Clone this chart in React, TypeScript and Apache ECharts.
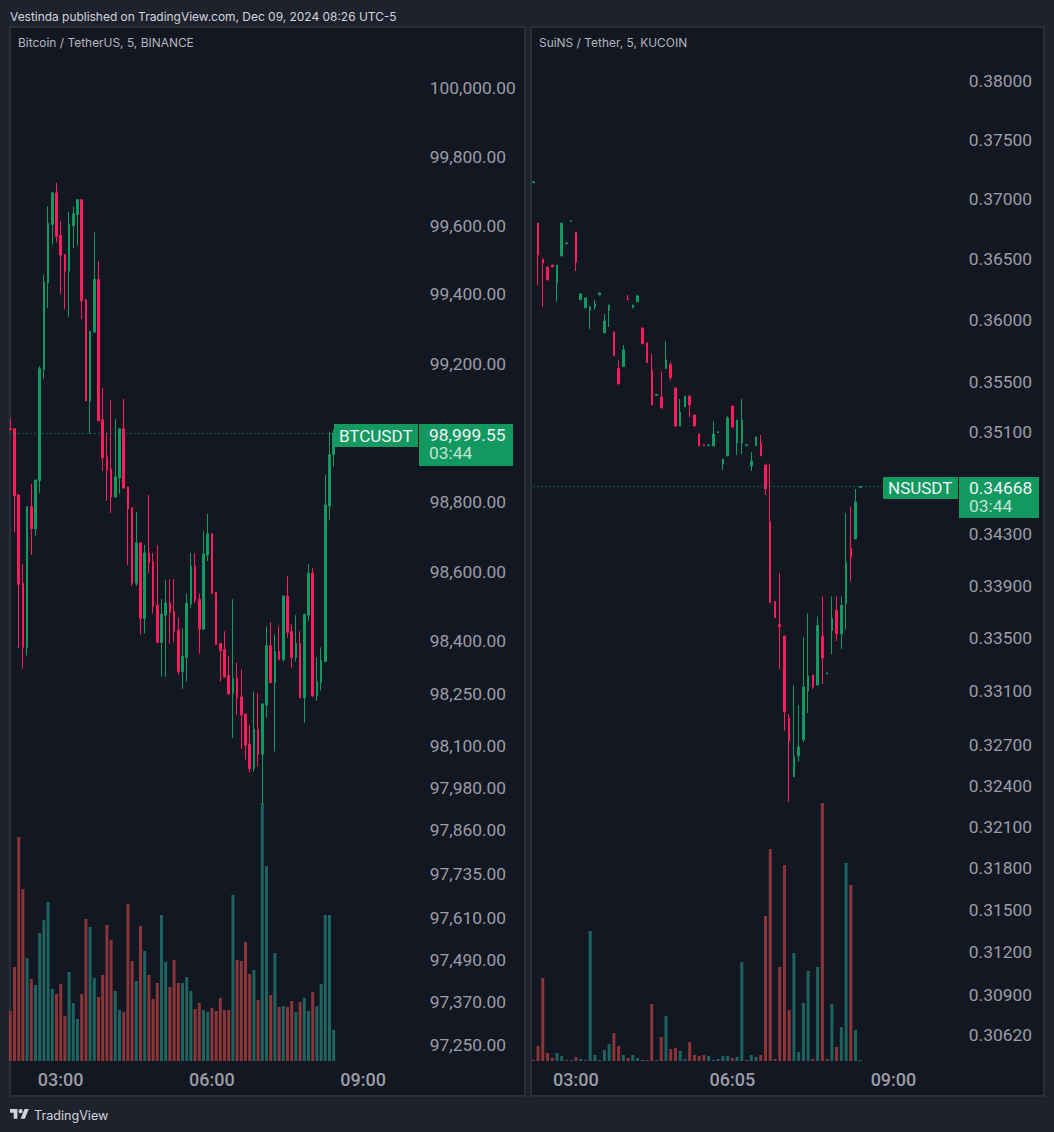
import React, { useEffect, useRef } from "react";
import * as echarts from "echarts";

const leftOpen = [99012,99012,98821,98567,98383,98787,98723,98862,99182,99433,
  99603,99695,99571,99516,99467,99600,99632,99675,99384,99092,
  99291,99444,99038,98931,98896,98815,98870,99012,98844,98784,
  98567,98683,98466,98654,98628,98504,98397,98475,98510,98487,
  98432,98313,98354,98507,98616,98521,98435,98648,98709,98541,
  98394,98377,98302,98250,98293,98241,98192,98106,98036,98149,
  98077,98218,98388,98282,98371,98348,98530,98429,98354,98394,
  98238,98475,98596,98244,98282,98342,98789,98937];
const leftClose = [99009,98818,98564,98383,98787,98723,98864,99185,99436,99606,
  99695,99568,99514,99467,99603,99635,99675,99381,99092,99294,
  99444,99035,98928,98893,98815,98873,99012,98841,98781,98567,
  98683,98466,98654,98625,98501,98397,98478,98510,98484,98429,
  98313,98357,98510,98616,98518,98435,98651,98709,98538,98391,
  98374,98299,98250,98293,98238,98189,98103,98036,98149,98077,
  98221,98388,98282,98371,98348,98530,98426,98354,98394,98238,
  98478,98596,98244,98285,98345,98792,98937,98999.55];
const leftLow = [99009,98714,98380,98322,98360,98648,98703,98827,99156,99361,
  99545,99551,99401,99358,99335,99534,99542,99329,99092,98997,
  99289,99035,98890,98804,98769,98815,98824,98838,98619,98559,
  98559,98420,98423,98596,98481,98397,98299,98299,98394,98400,
  98305,98264,98285,98495,98510,98365,98435,98631,98538,98391,
  98285,98296,98247,98123,98189,98091,98062,98025,98028,98042,
  97935,98181,98282,98085,98348,98342,98411,98325,98342,98238,
  98166,98458,98241,98230,98259,98342,98749,98902];
const leftHigh = [99040,99012,98821,98622,98789,98853,98864,99193,99456,99655,
  99695,99724,99612,99516,99640,99655,99675,99675,99387,99294,
  99580,99496,99130,99000,99095,99040,99012,99098,98844,98784,
  98772,98683,98677,98821,98654,98677,98521,98576,98579,98579,
  98469,98437,98538,98654,98654,98538,98717,98766,98709,98541,
  98394,98429,98357,98521,98339,98319,98192,98160,98256,98253,
  98221,98443,98455,98420,98443,98533,98587,98449,98475,98429,
  98478,98622,98611,98354,98383,98879,99003,99009];
const leftVolume = [50,94,224,172,103,82,76,128,141,159,
  72,67,77,45,89,58,42,67,142,134,
  83,64,86,136,121,70,51,49,157,100,
  80,135,110,86,62,78,146,99,74,101,
  78,78,84,70,52,58,51,49,53,50,
  63,51,51,166,101,100,119,87,91,61,
  258,195,66,108,54,55,54,60,49,59,
  63,50,69,55,77,146,146,31];
const leftTicks = [100000,99800,99600,99400,99200,98800,98600,98400,98250,98100,97980,97860,97735,97610,97490,97370,97250];
const leftTimeLabels: Record<number, string> = { 12: "03:00", 48: "06:00", 84: "09:00" };

const rightOpen = [0.37136,0.36798,0.365,0.36434,0.3645,0.36302,0.36525,0.36626,0.3681,0.36724,
  0.36164,0.36099,0.36082,0.36107,0.36205,0.35895,0.36082,0.35903,0.35606,0.35622,
  0.36172,0.36099,0.36148,0.35935,0.35814,0.3559,0.3539,0.35378,0.35606,0.35638,
  0.3545,0.35146,0.35298,0.35386,0.35234,0.35083,0.34998,0.3499,0.34988,0.35093,
  0.34846,0.34909,0.35306,0.35012,0.35012,0.3499,0.3483,0.34988,0.35012,0.34838,
  0.34391,0.33778,0.33602,0.33515,0.32899,0.32465,0.32619,0.32737,0.331,0.33221,
  0.33145,0.33515,0.33229,0.33556,0.33709,0.33533,0.33762,0.34188,0.34259,0.3466];
const rightClose = [0.37144,0.36533,0.36467,0.36327,0.36434,0.3645,0.36798,0.36634,0.36818,0.36475,
  0.36213,0.3618,0.36107,0.36131,0.36221,0.35992,0.36123,0.3571,0.35482,0.35758,
  0.36164,0.36123,0.36197,0.35806,0.35654,0.35314,0.35398,0.3529,0.35678,0.35534,
  0.35146,0.35258,0.35386,0.35314,0.35146,0.34988,0.3499,0.34998,0.35083,0.35101,
  0.34885,0.3521,0.35138,0.35194,0.35194,0.34998,0.3487,0.3506,0.34909,0.34649,
  0.3377,0.33655,0.33587,0.32944,0.3273,0.32612,0.32685,0.3313,0.33213,0.3313,
  0.33594,0.33349,0.33237,0.33648,0.33533,0.33747,0.3408,0.34119,0.34547,0.34668];
const rightLow = [0.37136,0.36286,0.36107,0.36327,0.36434,0.36148,0.36525,0.36626,0.3681,0.36401,
  0.36164,0.36099,0.35927,0.36082,0.36205,0.35895,0.35943,0.3571,0.35482,0.35622,
  0.36164,0.36099,0.36148,0.35806,0.35654,0.35314,0.3539,0.3529,0.35606,0.3551,
  0.35146,0.35146,0.35298,0.35218,0.35146,0.34988,0.3499,0.3499,0.34988,0.35093,
  0.34799,0.34909,0.35138,0.34917,0.34925,0.3499,0.34791,0.34988,0.34909,0.34602,
  0.3377,0.33655,0.33266,0.32804,0.32281,0.32465,0.32575,0.32722,0.32936,0.33115,
  0.33145,0.33153,0.33229,0.33379,0.33477,0.33416,0.33564,0.33933,0.34259,0.3466];
const rightHigh = [0.37144,0.36798,0.365,0.36434,0.3645,0.3645,0.36798,0.36634,0.36818,0.36724,
  0.36213,0.3618,0.36115,0.36164,0.36221,0.36049,0.36123,0.35903,0.35678,0.35798,
  0.36205,0.36123,0.36197,0.35935,0.35814,0.35726,0.35398,0.35582,0.35831,0.35662,
  0.3545,0.35362,0.35386,0.35386,0.35234,0.35083,0.34998,0.34998,0.35186,0.35101,
  0.34885,0.35226,0.35306,0.35194,0.35362,0.34998,0.3494,0.3506,0.35075,0.34838,
  0.34846,0.33778,0.33995,0.33515,0.32929,0.33145,0.32996,0.33508,0.33686,0.33221,
  0.33663,0.33816,0.33237,0.33816,0.33816,0.33816,0.34461,0.34508,0.34649,0.34668];
const rightVolume = [1,15,83,8,3,8,5,1,1,4,
  2,1,130,6,1,11,17,28,15,6,
  3,6,3,1,1,57,1,24,45,12,
  13,10,2,19,6,5,6,5,1,2,
  5,5,3,4,99,1,6,4,6,145,
  212,2,94,196,51,108,9,58,90,2,
  94,258,2,57,14,34,198,176,31,1];
const rightVolumeRed = [0,1,2,3,4,7,9,17,18,20,23,24,25,27,29,30,33,34,35,36,42,45,48,49,50,51,52,53,54,59,61,62,64,67];
const rightTicks = [0.38,0.375,0.37,0.365,0.36,0.355,0.351,0.343,0.339,0.335,0.331,0.327,0.324,0.321,0.318,0.315,0.312,0.309,0.3062];
const rightTimeLabels: Record<number, string> = { 9: "03:00", 42: "06:05", 76: "09:00" };

const GREEN = "#0f9a62";
const RED = "#ff1c5c";
const VOL_GREEN = "#1f6360";
const VOL_RED = "#8a3539";
const TEXT = "#9a9da6";
const FONT = "Roboto";

const leftCategories = Array.from({ length: 98 }, (_, i) => {
  const m = 120 + i * 5;
  return `${String(Math.floor(m / 60)).padStart(2, "0")}:${String(m % 60).padStart(2, "0")}`;
});
const rightCategories = Array.from({ length: 91 }, (_, i) => rightTimeLabels[i] ?? String(i));

const LEFT_Y = [97204, 100175];
const RIGHT_Y = [0.30442, 0.38459];

function candles(o: number[], c: number[], l: number[], h: number[]) {
  return o.map((v, i) => [v, c[i], l[i], h[i]]);
}

function paneAxes(grids: [number, number], cats: string[], labels: Record<number, string>, yRange: number[], ticks: number[], fmt: (v: number) => string, margin: number) {
  const [g, v] = grids;
  const xAxis = [
    {
      type: "category", gridIndex: g, data: cats, boundaryGap: false,
      axisLine: { show: false }, axisTick: { show: false }, splitLine: { show: false },
      axisLabel: {
        interval: (i: number) => labels[i] !== undefined,
        formatter: (_: string, i: number) => labels[i] ?? "",
        color: TEXT, fontFamily: FONT, fontSize: 18, fontWeight: 500, margin: 9,
      },
    },
    { type: "category", gridIndex: v, data: cats, boundaryGap: false, show: false },
  ];
  const yAxis = [
    { type: "log", gridIndex: g, min: yRange[0], max: yRange[1], show: false, splitLine: { show: false } },
    { type: "value", gridIndex: v, min: 0, max: 258, show: false, splitLine: { show: false } },
    {
      type: "value", gridIndex: g, position: "right",
      min: Math.log10(yRange[0]), max: Math.log10(yRange[1]),
      axisLine: { show: false }, axisTick: { show: false }, splitLine: { show: false },
      axisLabel: {
        customValues: ticks.map((t) => Math.log10(t)),
        formatter: (val: number) => fmt(Math.pow(10, val)),
        color: TEXT, fontFamily: FONT, fontSize: 17.4, align: "left", margin,
      },
    },
  ];
  return { xAxis, yAxis };
}

function priceSeries(xi: number, yi: number, data: number[][], last: number) {
  return {
    type: "candlestick", xAxisIndex: xi, yAxisIndex: yi, data, barWidth: 2, clip: true,
    itemStyle: { color: GREEN, color0: RED, borderColor: GREEN, borderColor0: RED, borderColorDoji: GREEN, borderWidth: 1 },
    markLine: {
      silent: true, symbol: "none", animation: false, label: { show: false }, precision: 5,
      lineStyle: { color: GREEN, type: [1, 3], width: 1, opacity: 1 },
      data: [{ yAxis: last }],
    },
  };
}

function volumeSeries(xi: number, yi: number, values: number[], isRed: (i: number) => boolean) {
  return {
    type: "bar", xAxisIndex: xi, yAxisIndex: yi, barWidth: 3, clip: true,
    data: values.map((v, i) => ({ value: v, itemStyle: { color: isRed(i) ? VOL_RED : VOL_GREEN } })),
  };
}

const d = "M14 22H7V11H0V4h14v18zM28 22h-8l7.5-18h8L28 22z M24 8a4 4 0 1 1-8 0a4 4 0 0 1 8 0z";
echarts.graphic.registerShape("tvlogo", echarts.graphic.extendPath(d, {}));

function priceTag(nameX: number, nameW: number, priceX: number, priceW: number, top: number, h1: number, h2: number, name: string, price: string, textPad: number) {
  const z = 100;
  return [
    { type: "rect", z, shape: { x: nameX, y: top, width: nameW, height: h1 }, style: { fill: "#13985f" } },
    { type: "rect", z, shape: { x: priceX, y: top, width: priceW, height: h2 }, style: { fill: "#13985f" } },
    { type: "text", z: z + 1, x: nameX + 5, y: top + h1 / 2, style: { text: name, fill: "#f0f3fa", font: `17px ${FONT}`, verticalAlign: "middle" } },
    { type: "text", z: z + 1, x: priceX + textPad, y: top + 11, style: { text: price, fill: "#f0f3fa", font: `17.4px ${FONT}`, verticalAlign: "middle" } },
    { type: "text", z: z + 1, x: priceX + textPad, y: top + 29, style: { text: "03:44", fill: "#c0e3d3", font: `17.4px ${FONT}`, verticalAlign: "middle" } },
  ];
}

export default function App() {
  const ref = useRef<HTMLDivElement>(null);
  useEffect(() => {
    if (!ref.current) return;
    const chart = echarts.init(ref.current, undefined, { renderer: "svg" });
    const fmtLeft = (v: number) => v.toLocaleString("en-US", { minimumFractionDigits: 2, maximumFractionDigits: 2 });
    const fmtRight = (v: number) => v.toFixed(5);
    const L = paneAxes([0, 1], leftCategories, leftTimeLabels, LEFT_Y, leftTicks, fmtLeft, 12);
    const R = paneAxes([2, 3], rightCategories, rightTimeLabels, RIGHT_Y, rightTicks, fmtRight, 9);
    const leftX = { left: 10.3, width: 407.4 };
    const rightX = { left: 533.3, width: 426.5 };
    const pane = (x: number, w: number) => ({
      type: "rect", z: -10, shape: { x, y: 27, width: w, height: 1069 },
      style: { fill: "#131722", stroke: "#2a2e39", lineWidth: 2 },
    });
    chart.setOption({
      animation: false,
      backgroundColor: "#1e222d",
      grid: [
        { ...leftX, top: 28, height: 1033 },
        { ...leftX, top: 803, height: 258 },
        { ...rightX, top: 28, height: 1033 },
        { ...rightX, top: 803, height: 258 },
      ],
      xAxis: [...L.xAxis, ...R.xAxis],
      yAxis: [
        L.yAxis[0], L.yAxis[1], L.yAxis[2],
        R.yAxis[0], R.yAxis[1], R.yAxis[2],
      ],
      series: [
        volumeSeries(1, 1, leftVolume, (i) => i === 0 || leftClose[i] < leftOpen[i]),
        priceSeries(0, 0, candles(leftOpen, leftClose, leftLow, leftHigh), 98999.55),
        volumeSeries(3, 4, rightVolume, (i) => rightVolumeRed.includes(i)),
        priceSeries(2, 3, candles(rightOpen, rightClose, rightLow, rightHigh), 0.34668),
      ],
      graphic: [
        pane(10, 515),
        pane(531, 513),
        { type: "text", x: 10, y: 16, style: { text: "Vestinda published on TradingView.com, Dec 09, 2024 08:26 UTC-5", fill: "#d1d4dc", font: "11.94px Inter", verticalAlign: "middle" } },
        { type: "text", x: 18, y: 42, style: { text: "Bitcoin / TetherUS, 5, BINANCE", fill: "#b2b5be", font: "11.94px Inter", verticalAlign: "middle" } },
        { type: "text", x: 539, y: 42, style: { text: "SuiNS / Tether, 5, KUCOIN", fill: "#b2b5be", font: "11.94px Inter", verticalAlign: "middle" } },
        { type: "tvlogo", x: 10, y: 1107, scaleX: 0.53, scaleY: 0.53, style: { fill: "#d1d4dc" } },
        { type: "text", x: 34, y: 1115, style: { text: "TradingView", fill: "#d1d4dc", font: "12.6px Inter", verticalAlign: "middle" } },
        ...priceTag(334, 84, 419, 94, 424, 23, 42, "BTCUSDT", "98,999.55", 10),
        ...priceTag(883, 75, 959, 80, 477, 22, 41, "NSUSDT", "0.34668", 10),
      ],
    });
    return () => chart.dispose();
  }, []);
  return <div ref={ref} style={{ position: "fixed", left: 0, top: 0, width: 1054, height: 1132 }} />;
}
